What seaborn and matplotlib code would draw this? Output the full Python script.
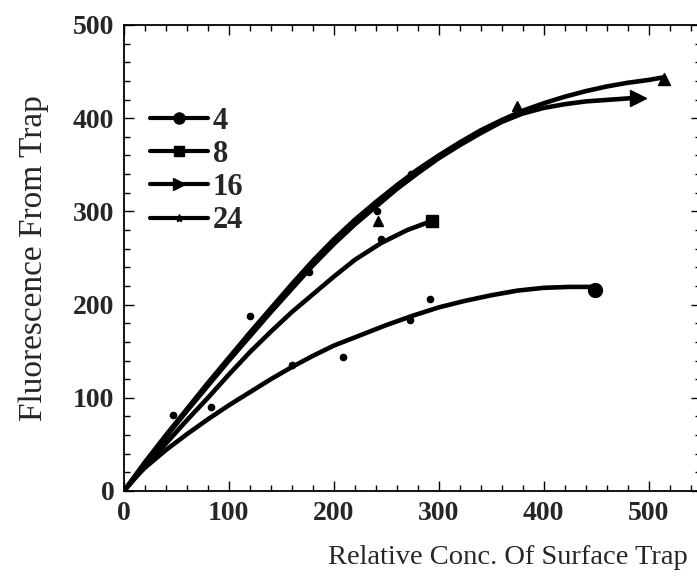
import matplotlib
matplotlib.use("Agg")
import matplotlib.pyplot as plt
from matplotlib.lines import Line2D
from matplotlib.ticker import MultipleLocator
import seaborn as sns
import pandas as pd

# fitted curves (relative conc. vs fluorescence)
conc_4 = [0, 10, 20, 40, 60, 80, 100, 120, 140, 160, 180, 200, 225, 250, 275,
          300, 325, 350, 375, 400, 425, 449]
fit_4 = [0, 14, 25, 44, 61, 77, 92, 106, 120, 133, 145, 156, 167, 178, 188,
         197, 204, 210, 215, 218, 219, 219]

conc_8 = [0, 10, 20, 40, 60, 80, 100, 120, 140, 160, 180, 200, 220, 245, 270, 294]
fit_8 = [0, 13, 26, 51, 76, 100, 125, 149, 171, 192, 211, 230, 248, 266, 280, 290]

conc_16 = [0, 20, 40, 60, 80, 100, 120, 140, 160, 180, 200, 220, 240, 260, 280,
           300, 320, 340, 360, 380, 400, 420, 440, 465, 490]
fit_16 = [0, 30, 58, 86, 113, 140, 166, 192, 217, 242, 265, 286, 305, 324, 341,
          357, 371, 384, 396, 405, 411, 415, 418, 420, 422]

conc_24 = [0, 20, 40, 60, 80, 100, 120, 140, 160, 180, 200, 220, 240, 260, 280,
           300, 320, 340, 360, 380, 400, 420, 440, 460, 480, 500, 515]
fit_24 = [0, 31, 60, 88, 116, 143, 170, 196, 222, 247, 270, 291, 310, 328, 345,
          360, 374, 387, 398, 408, 416, 423, 429, 434, 438, 441, 444]

# measured points
pts_4_x = [83, 160, 209, 273, 292]
pts_4_y = [90, 135, 144, 184, 206]
pts_8_x = [47, 120, 245]
pts_8_y = [82, 188, 270]
pts_16_x = [176, 241, 274]
pts_16_y = [235, 300, 340]
pts_24_x = [0, 242, 375]
pts_24_y = [0, 290, 413]

end_x = [449, 294, 490, 515]
end_y = [216, 290, 422, 442]
end_markers = ["o", "s", ">", "^"]
end_sizes = [10, 8, 12, 8]
labels = ["4", "8", "16", "24"]

sns.set_theme(style="white")
plt.rcParams["font.family"] = ["Liberation Serif", "DejaVu Serif"]

fig = plt.figure(figsize=(6.97, 5.79), dpi=100)
ax = fig.add_axes([124 / 697, 88 / 579, (701 - 124) / 697, (491 - 25) / 579])

curves = [(conc_4, fit_4), (conc_8, fit_8), (conc_16, fit_16), (conc_24, fit_24)]
for (cx, cy), lab in zip(curves, labels):
    df = pd.DataFrame({"x": cx, "y": cy})
    sns.lineplot(data=df, x="x", y="y", ax=ax, color="black", linewidth=3.3,
                 sort=False, estimator=None, legend=False)

for px, py in [(pts_4_x, pts_4_y), (pts_8_x, pts_8_y), (pts_16_x, pts_16_y)]:
    ax.plot(px, py, "o", color="black", markersize=4.5, linestyle="none")
ax.plot(pts_24_x, pts_24_y, "^", color="black", markersize=7, linestyle="none")

for ex, ey, m, s in zip(end_x, end_y, end_markers, end_sizes):
    ax.plot([ex], [ey], marker=m, color="black", markersize=s, linestyle="none")

ax.set_xlim(0, 550)
ax.set_ylim(0, 500)
ax.xaxis.set_major_locator(MultipleLocator(100))
ax.xaxis.set_minor_locator(MultipleLocator(20))
ax.yaxis.set_major_locator(MultipleLocator(100))
ax.yaxis.set_minor_locator(MultipleLocator(20))
ax.tick_params(which="both", direction="in", top=True, right=True,
               bottom=True, left=True, color="black", width=1)
ax.tick_params(which="major", length=7, labelsize=20, pad=7)
ax.tick_params(which="minor", length=4)
for lbl in ax.get_xticklabels() + ax.get_yticklabels():
    lbl.set_fontweight("bold")
for sp in ax.spines.values():
    sp.set_color("black")
    sp.set_linewidth(1.3)

ax.set_xlabel("Relative Conc. Of Surface Trap", fontsize=20.5)
ax.set_ylabel("Fluorescence From Trap", fontsize=24)
ax.xaxis.set_label_coords(0.665, -0.115)
ax.yaxis.set_label_coords(-0.13, 0.5)

handles = [
    Line2D([], [], color="black", linewidth=3, marker="o", markersize=8),
    Line2D([], [], color="black", linewidth=3, marker="s", markersize=7),
    Line2D([], [], color="black", linewidth=3, marker=">", markersize=9),
    Line2D([], [], color="black", linewidth=3, marker="*", markersize=6),
]
leg = ax.legend(handles, labels, loc="upper left", bbox_to_anchor=(0.045, 0.825),
                frameon=False, handlelength=1.9, handletextpad=0.15,
                labelspacing=0.14, borderpad=0, borderaxespad=0,
                prop={"family": "Liberation Serif", "weight": "bold", "size": 22})

fig.savefig("out.png", dpi=100)
